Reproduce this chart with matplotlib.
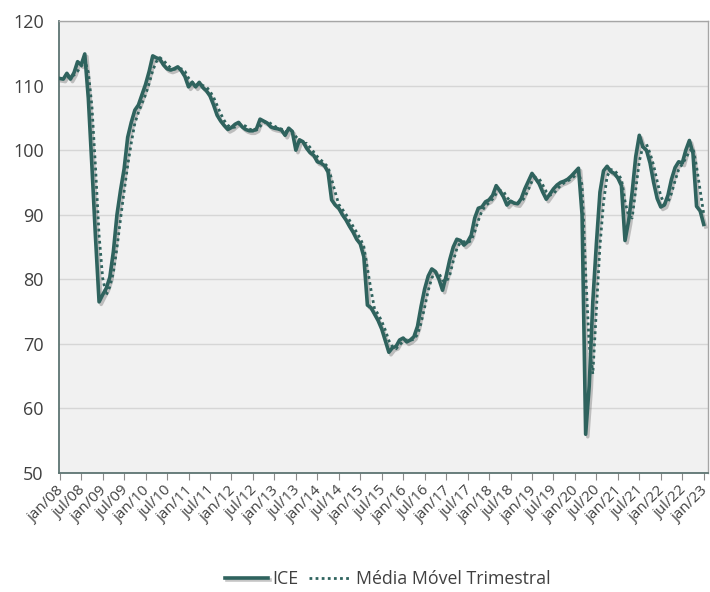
import matplotlib
matplotlib.use("Agg")
import matplotlib.pyplot as plt
import matplotlib.patheffects as pe
import matplotlib.transforms as mtransforms
import numpy as np
import pandas as pd

# ---- data (monthly, jan/08 .. jan/23) ----
ice_2008 = [111.1, 111.0, 111.9, 111.0, 112.0, 113.7, 113.2, 114.9, 108.0, 97.5, 86.5, 76.5]
ice_2009 = [77.6, 78.6, 80.3, 84.3, 90.0, 93.8, 97.1, 102.0, 104.3, 106.2, 107.0, 108.6]
ice_2010 = [110.2, 112.2, 114.6, 114.3, 114.1, 113.2, 112.6, 112.4, 112.6, 112.9, 112.3, 111.4]
ice_2011 = [109.8, 110.5, 109.8, 110.5, 109.7, 109.2, 108.4, 107.0, 105.4, 104.5, 103.8, 103.2]
ice_2012 = [103.5, 104.0, 104.3, 103.6, 103.2, 103.0, 103.0, 103.3, 104.8, 104.5, 104.2, 103.6]
ice_2013 = [103.4, 103.3, 103.1, 102.3, 103.4, 102.9, 100.0, 101.6, 101.3, 100.3, 99.6, 99.2]
ice_2014 = [98.2, 98.0, 97.6, 96.6, 92.3, 91.5, 91.0, 90.0, 89.2, 88.2, 87.3, 86.2]
ice_2015 = [85.5, 83.5, 76.0, 75.6, 74.6, 73.6, 72.3, 70.5, 68.7, 69.4, 69.6, 70.6]
ice_2016 = [70.9, 70.3, 70.6, 71.1, 72.7, 75.8, 78.5, 80.5, 81.6, 81.2, 80.0, 78.3]
ice_2017 = [80.5, 83.0, 85.0, 86.2, 86.0, 85.3, 85.8, 86.8, 89.5, 91.0, 91.2, 92.0]
ice_2018 = [92.3, 93.0, 94.5, 93.7, 92.8, 91.5, 92.1, 91.8, 91.7, 92.5, 94.0, 95.2]
ice_2019 = [96.4, 95.6, 94.8, 93.5, 92.4, 93.2, 94.0, 94.6, 95.0, 95.2, 95.5, 96.0]
ice_2020 = [96.6, 97.2, 90.0, 56.0, 63.5, 76.5, 85.5, 93.5, 96.8, 97.5, 96.7, 96.4]
ice_2021 = [95.7, 94.5, 86.0, 89.0, 93.5, 99.0, 102.3, 100.5, 100.0, 98.0, 95.0, 92.5]
ice_2022 = [91.2, 91.5, 93.0, 95.5, 97.3, 98.2, 98.0, 100.0, 101.5, 99.5, 91.3, 90.6]
ice_2023 = [88.5]

tick_labels = ["jan/08", "jul/08", "jan/09", "jul/09", "jan/10", "jul/10", "jan/11", "jul/11",
               "jan/12", "jul/12", "jan/13", "jul/13", "jan/14", "jul/14", "jan/15", "jul/15",
               "jan/16", "jul/16", "jan/17", "jul/17", "jan/18", "jul/18", "jan/19", "jul/19",
               "jan/20", "jul/20", "jan/21", "jul/21", "jan/22", "jul/22", "jan/23"]

series_names = ["ICE", "Média Móvel Trimestral"]

ice = pd.Series(ice_2008 + ice_2009 + ice_2010 + ice_2011 + ice_2012 + ice_2013 + ice_2014 +
                ice_2015 + ice_2016 + ice_2017 + ice_2018 + ice_2019 + ice_2020 + ice_2021 +
                ice_2022 + ice_2023)
mm3 = ice.rolling(3).mean()
x = np.arange(len(ice))

# ---- style ----
line_color = "#2f635e"
text_color = "#404040"
plt.rcParams["font.family"] = ["Open Sans", "DejaVu Sans"]

fig = plt.figure(figsize=(7.1, 5.92), dpi=100)
ax = fig.add_axes([59 / 710, 119 / 592, 649 / 710, 452 / 592])
ax.set_facecolor("#f1f1f1")

shadow = [pe.SimpleLineShadow(offset=(1.5, -1.8), shadow_color="#6f6f6f", alpha=0.4), pe.Normal()]
ax.plot(x, ice, color=line_color, lw=2.6, label=series_names[0], path_effects=shadow, zorder=3)
ax.plot(x, mm3, color=line_color, lw=2.0, linestyle=(0, (1, 1.2)), label=series_names[1], zorder=4)

ax.set_ylim(50, 120)
ax.set_yticks(np.arange(50, 121, 10))
ax.set_xlim(-0.2, 181.2)
ax.set_xticks(np.arange(0, len(tick_labels) * 6, 6))
ax.set_xticklabels(tick_labels, rotation=45, ha="right", rotation_mode="anchor", fontsize=10.8,
                   color=text_color)
ax.tick_params(axis="x", length=5, color="#8a8a8a", pad=2)
ax.tick_params(axis="y", length=0, labelsize=13, labelcolor=text_color, pad=11)

shift = mtransforms.ScaledTranslation(-3 / 100, 0, fig.dpi_scale_trans)
for lab in ax.get_xticklabels():
    lab.set_transform(lab.get_transform() + shift)

ax.grid(axis="y", color="#d6d6d6", lw=1.0)
ax.set_axisbelow(True)
for side in ["top", "right"]:
    ax.spines[side].set_color("#a6a6a6")
    ax.spines[side].set_linewidth(1.0)
for side in ["left", "bottom"]:
    ax.spines[side].set_color("#5d7472")
    ax.spines[side].set_linewidth(1.3)

leg = fig.legend(loc="center", bbox_to_anchor=(0.546, 0.022), ncol=2, frameon=False,
                 fontsize=12.8, handlelength=2.4, columnspacing=0.6, handletextpad=0.25,
                 borderpad=0.1)
for t in leg.get_texts():
    t.set_color(text_color)

fig.savefig("out.png", dpi=100)
